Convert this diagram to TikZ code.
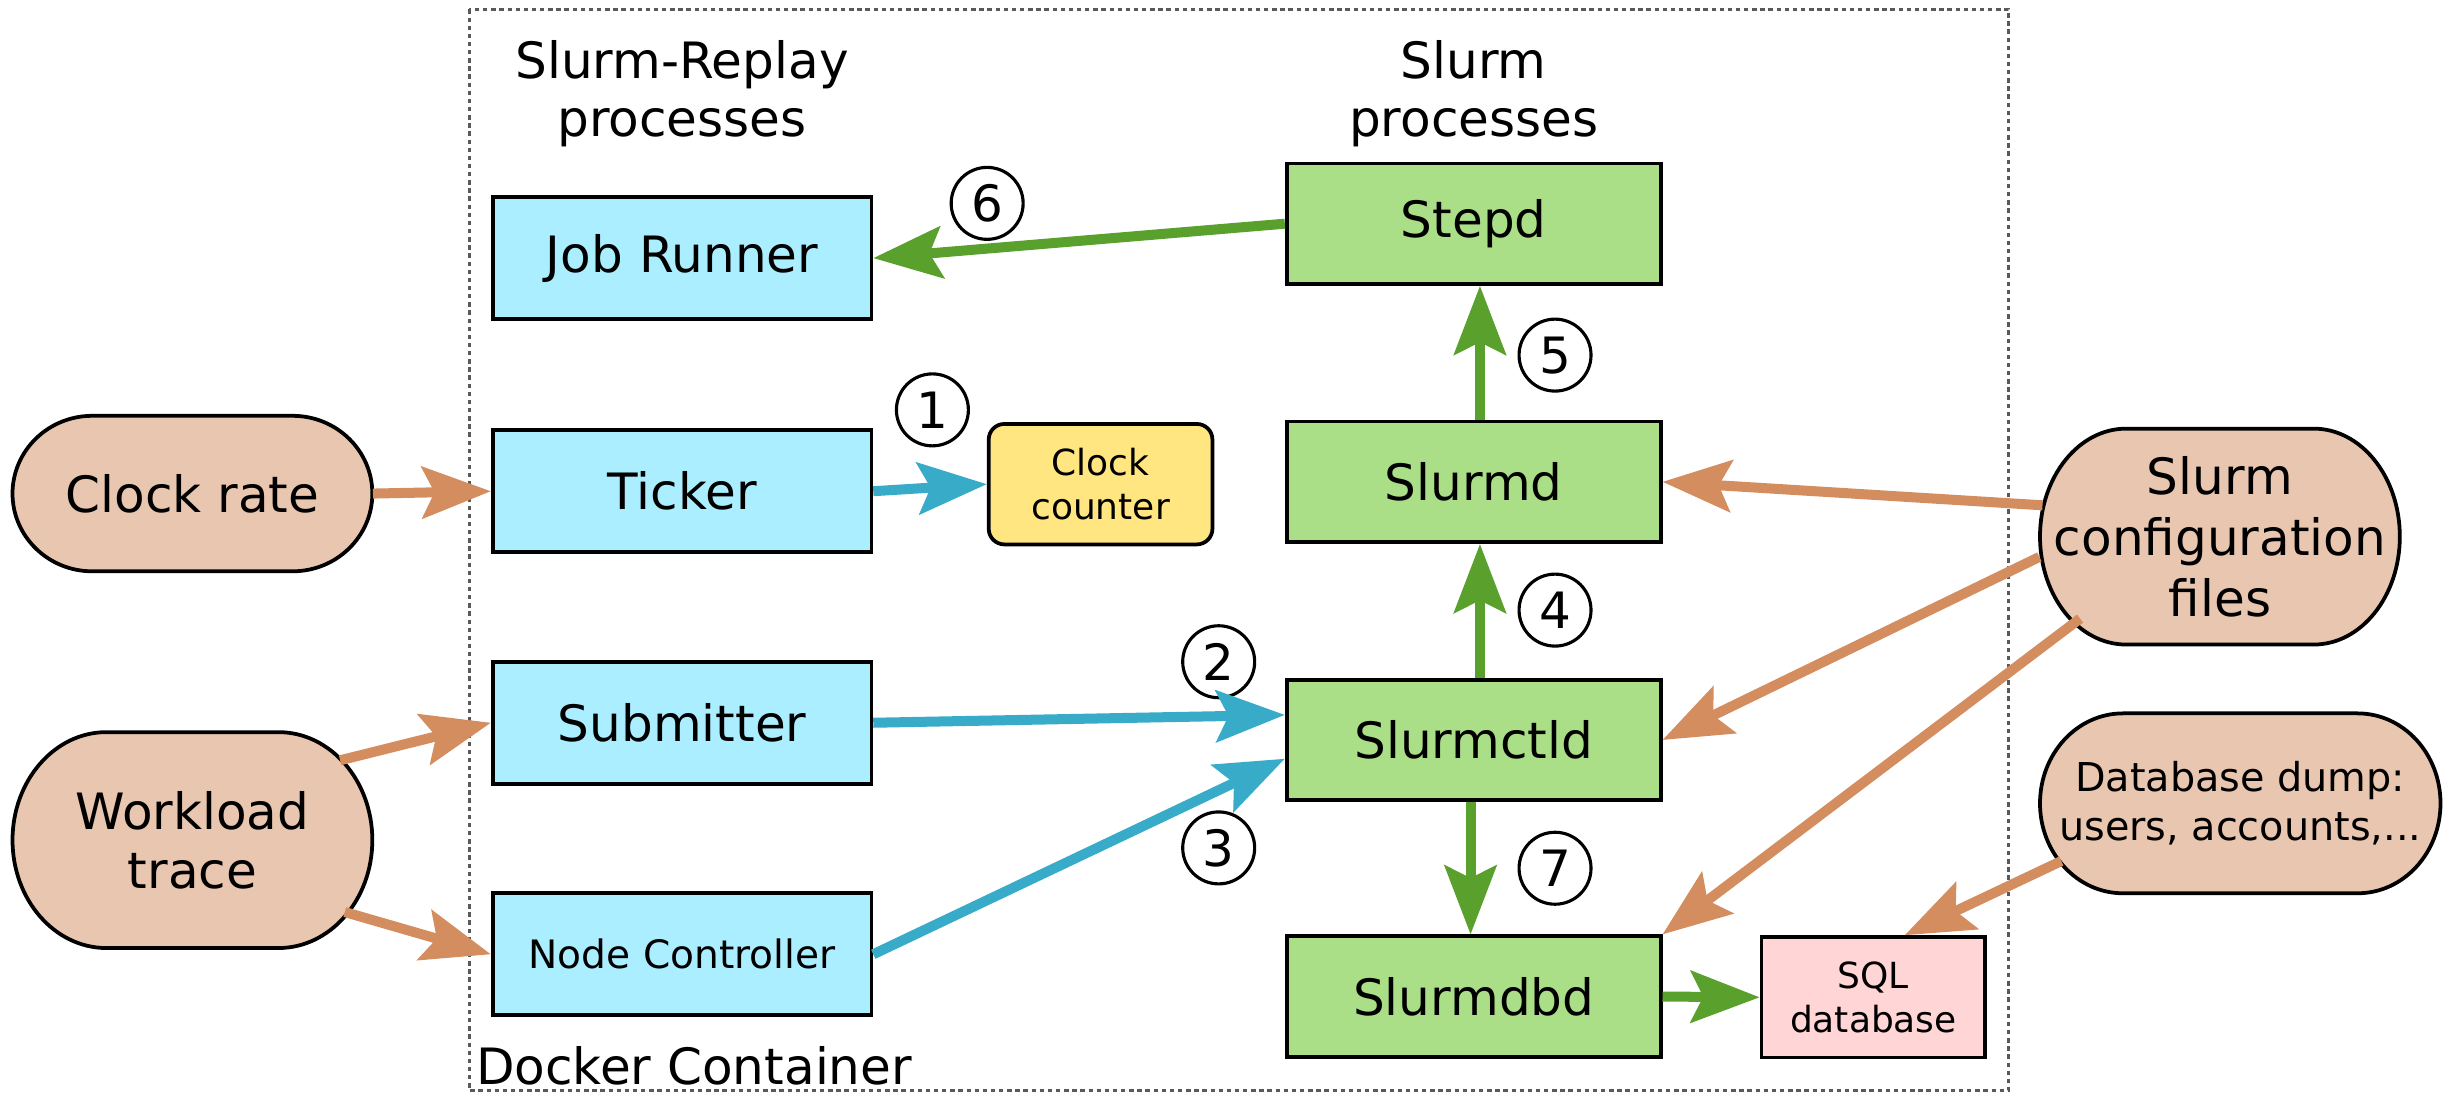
\documentclass[tikz,border=0pt]{standalone}
\usepackage{fontspec}
\setmainfont{DejaVu Sans}
\usetikzlibrary{arrows.meta}

\definecolor{replayfill}{HTML}{AAEEFF}
\definecolor{slurmfill}{HTML}{AADE87}
\definecolor{inputfill}{HTML}{E9C6AF}
\definecolor{clockfill}{HTML}{FFE680}
\definecolor{sqlfill}{HTML}{FFD5D5}
\definecolor{greenarr}{HTML}{5AA02C}
\definecolor{bluearr}{HTML}{37ABC8}
\definecolor{orangearr}{HTML}{D38D5F}

% capsule: centre x, centre y, half width, half height, corner x radius
\newcommand\capsule[5]{%
  \draw[capsulebg] (#1-#3+#5,#2-#4) -- (#1+#3-#5,#2-#4)
    arc[start angle=-90,end angle=90,x radius=#5,y radius=#4]
    -- (#1-#3+#5,#2+#4)
    arc[start angle=90,end angle=270,x radius=#5,y radius=#4] -- cycle;}

\begin{document}
\begin{tikzpicture}[x=0.5pt,y=-0.5pt,
    box/.style={draw,line width=1.2pt,inner sep=0pt,align=center},
    replay/.style={box,fill=replayfill,minimum width=121pt,minimum height=39pt,font=\fontsize{16}{19}\selectfont},
    slurmproc/.style={box,fill=slurmfill,minimum width=119.5pt,minimum height=38.5pt,font=\fontsize{16}{19}\selectfont},
    smallbox/.style={box,minimum width=71.5pt,minimum height=38.5pt,font=\fontsize{11.5}{14}\selectfont},
    capsulebg/.style={draw,line width=1.2pt,fill=inputfill},
    input/.style={inner sep=0pt,align=center,minimum width=115pt},
    num/.style={draw,circle,line width=1pt,minimum size=23pt,inner sep=0pt,font=\fontsize{16}{19}\selectfont},
    head/.style={align=center,font=\fontsize{16}{18.5}\selectfont},
    arr/.style={line width=3.2pt,-{Stealth[length=22pt,width=16.5pt,inset=4pt]}}]
  \useasboundingbox (0,0) rectangle (1568,699);
  \draw[gray!70!black,line width=0.8pt,dash pattern=on 1.4pt off 1.2pt] (300,6) rectangle (1284,697);
  \node[head] (replayhd) at (436,60) {Slurm-Replay\\processes};
  \node[head] (slurmhd) at (942,60) {Slurm\\processes};
  \node[anchor=base west,inner sep=0pt,font=\fontsize{16}{18}\selectfont] (docker) at (304,693) {Docker Container};

  % Slurm-Replay side
  \node[replay] (jobrunner) at (436,165) {Job Runner};
  \node[replay] (ticker) at (436,314) {Ticker};
  \node[replay] (submitter) at (436,462) {Submitter};
  \node[replay,font=\fontsize{12.5}{15}\selectfont] (nodectl) at (436,610) {Node Controller};
  \node[smallbox,fill=clockfill,rounded corners=5pt] (clockctr) at (703.5,309.5) {Clock\\counter};

  % Slurm side
  \node[slurmproc] (stepd) at (942,143) {Stepd};
  \node[slurmproc] (slurmd) at (942,308) {Slurmd};
  \node[slurmproc] (slurmctld) at (942,473) {Slurmctld};
  \node[slurmproc] (slurmdbd) at (942,637) {Slurmdbd};
  \node[smallbox,fill=sqlfill] (sqldb) at (1197.5,637.5) {SQL\\database};

  % inputs
  \capsule{123}{315.5}{115}{49.7}{51}
  \capsule{123}{537}{115}{69}{60}
  \capsule{1419}{343}{115}{69}{55}
  \capsule{1432}{513.5}{128}{57.5}{53}
  \node[input,minimum height=49.7pt,font=\fontsize{16}{19}\selectfont] (clockrate) at (123,315.5) {Clock rate};
  \node[input,minimum height=69pt,font=\fontsize{16}{19}\selectfont] (workload) at (123,537) {Workload\\trace};
  \node[input,minimum height=69pt,font=\fontsize{16}{19.5}\selectfont] (slurmconf) at (1419,343) {Slurm\\configuration\\files};
  \node[input,minimum width=128pt,minimum height=57.5pt,font=\fontsize{12.7}{15.5}\selectfont] (dbdump) at (1432,513.5) {Database dump:\\users, accounts,...};

  % steps
  \node[num] (n1) at (596,262) {1};
  \node[num] (n2) at (779,423) {2};
  \node[num] (n3) at (779,542) {3};
  \node[num] (n4) at (994,390) {4};
  \node[num] (n5) at (994,227) {5};
  \node[num] (n6) at (631,130) {6};
  \node[num] (n7) at (994,555) {7};

  \draw[arr,bluearr] (ticker.east) -- (clockctr.west);
  \draw[arr,bluearr] (submitter.east) -- ([yshift=8pt]slurmctld.west);
  \draw[arr,bluearr] (nodectl.east) -- ([yshift=-6pt]slurmctld.west);
  \draw[arr,greenarr] ([xshift=2pt]slurmctld.north) -- ([xshift=2pt]slurmd.south);
  \draw[arr,greenarr] ([xshift=2pt]slurmd.north) -- ([xshift=2pt]stepd.south);
  \draw[arr,greenarr] (stepd.west) -- (jobrunner.east);
  \draw[arr,greenarr] ([xshift=-1pt]slurmctld.south) -- ([xshift=-1pt]slurmdbd.north);
  \draw[arr,greenarr] (slurmdbd.east) -- (sqldb.west);
  \draw[arr,orangearr] (clockrate.east) -- (ticker.west);
  \draw[arr,orangearr] ([shift={(-10.5pt,25.5pt)}]workload.east) -- (submitter.west);
  \draw[arr,orangearr] ([shift={(-9pt,-23pt)}]workload.east) -- (nodectl.west);
  \draw[arr,orangearr] ([shift={(1pt,10pt)}]slurmconf.west) -- (slurmd.east);
  \draw[arr,orangearr] ([yshift=-6.5pt]slurmconf.west) -- (slurmctld.east);
  \draw[arr,orangearr] ([shift={(13pt,8.5pt)}]slurmconf.south west) -- (slurmdbd.north east);
  \draw[arr,orangearr] ([shift={(7pt,10.5pt)}]dbdump.south west) -- ([xshift=10pt]sqldb.north);
\end{tikzpicture}
\end{document}
